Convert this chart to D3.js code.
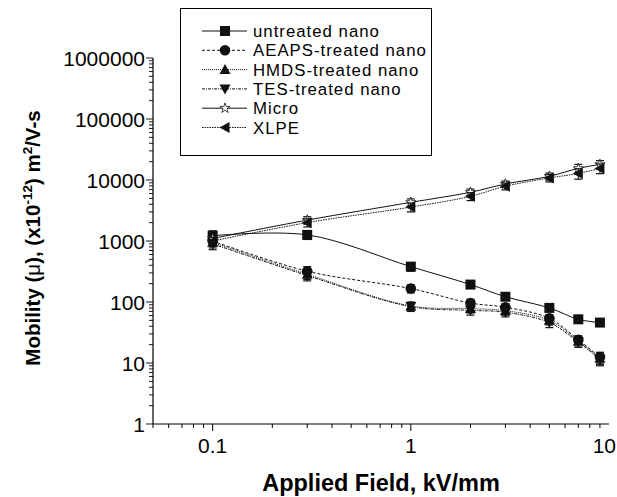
<!DOCTYPE html>
<html><head><meta charset="utf-8">
<script src="https://cdn.jsdelivr.net/npm/d3@7/dist/d3.min.js"></script>
<style>body{margin:0;background:#fff}svg{display:block}text{font-family:"Liberation Sans",Arial,Helvetica,sans-serif}</style>
</head><body>
<svg id="c" width="617" height="497"></svg>
<script>
const fields = [0.1, 0.3, 1, 2, 3, 5, 7, 9];
const untreated = [1220, 1260, 380, 193, 122, 80, 52, 46];
const aeaps     = [1000, 320, 166, 96, 82, 54, 24, 12.5];
const hmds      = [950, 285, 86, 78, 72, 50, 23, 12];
const tes       = [900, 272, 84, 73, 68, 46, 22, 11.5];
const micro     = [1100, 2200, 4300, 6300, 8600, 11500, 15500, 18000];
const xlpe      = [1000, 2000, 3600, 5400, 7900, 10800, 12800, 15500];
const errUntreated = [250, 200, 60, 20, 12, 8, 5, 4];
const errAeaps     = [180, 60, 25, 15, 12, 8, 4, 2.5];
const errHmds      = [180, 50, 14, 12, 11, 8, 4, 2.5];
const errTes       = [180, 50, 14, 12, 11, 8, 4, 2.5];
const errMicro     = [150, 300, 600, 800, 1000, 1500, 2500, 2800];
const errXlpe      = [150, 300, 600, 800, 1000, 1500, 2500, 2800];
const seriesNames = ["untreated nano", "AEAPS-treated nano", "HMDS-treated nano", "TES-treated nano", "Micro", "XLPE"];
const yTicks = [1, 10, 100, 1000, 10000, 100000, 1000000];
const xTicks = [0.1, 1, 10];

const series = [
  {name: seriesNames[0], v: untreated, e: errUntreated, dash: null, sym: "square"},
  {name: seriesNames[1], v: aeaps, e: errAeaps, dash: "3,2", sym: "circle"},
  {name: seriesNames[2], v: hmds, e: errHmds, dash: "1,1", sym: "up"},
  {name: seriesNames[3], v: tes, e: errTes, dash: "3,1,1,1", sym: "down"},
  {name: seriesNames[4], v: micro, e: errMicro, dash: null, sym: "star"},
  {name: seriesNames[5], v: xlpe, e: errXlpe, dash: "1.5,1", sym: "left"}
];

const svg = d3.select("#c");
const x = d3.scaleLog().domain([0.05, 10]).range([153, 609]);
const y = d3.scaleLog().domain([1, 1000000]).range([424, 58]);

// axes
const gx = svg.append("g").attr("transform", "translate(0,424)");
gx.append("line").attr("x1", 153).attr("x2", 609).attr("stroke", "#000").attr("stroke-width", 1.2);
const xMinor = [];
[0.01, 0.1, 1].forEach(d => { for (let k = 1; k <= 9; k++) { const v = d * k; if (v >= 0.05 && v <= 10) xMinor.push(v); } });
gx.selectAll("line.mt").data(xMinor).enter().append("line")
  .attr("x1", d => x(d)).attr("x2", d => x(d)).attr("y1", 0)
  .attr("y2", d => xTicks.includes(+d.toPrecision(3)) ? 7 : 4).attr("stroke", "#000").attr("stroke-width", 1);
gx.selectAll("text").data(xTicks).enter().append("text")
  .attr("x", d => d === 10 ? 616 : x(d)).attr("y", 29)
  .attr("text-anchor", d => d === 10 ? "end" : "middle").attr("font-size", 21).text(d => d);

const gy = svg.append("g");
gy.append("line").attr("x1", 153).attr("x2", 153).attr("y1", 424).attr("y2", 58).attr("stroke", "#000").attr("stroke-width", 1.2);
const yMinor = [];
yTicks.slice(0, -1).forEach(d => { for (let k = 1; k <= 9; k++) yMinor.push(d * k); });
yMinor.push(1000000);
gy.selectAll("line.mt").data(yMinor).enter().append("line")
  .attr("y1", d => y(d)).attr("y2", d => y(d)).attr("x1", 153)
  .attr("x2", d => yTicks.includes(d) ? 146 : 149).attr("stroke", "#000").attr("stroke-width", 0.9);
gy.selectAll("text").data(yTicks).enter().append("text")
  .attr("x", 145).attr("y", d => y(d) + 7.5).attr("text-anchor", "end").attr("font-size", 21).text(d => d);

// titles
svg.append("text").attr("x", 381).attr("y", 491).attr("text-anchor", "middle")
  .attr("font-size", 23.5).attr("font-weight", "bold").text("Applied Field, kV/mm");
const yt = svg.append("text").attr("transform", "translate(40,238) rotate(-90)").attr("text-anchor", "middle")
  .attr("font-size", 20.5).attr("font-weight", "bold");
yt.append("tspan").text("Mobility (");
yt.append("tspan").attr("font-weight", "normal").text("μ");
yt.append("tspan").text("), (x10");
yt.append("tspan").attr("font-size", 13.5).attr("dy", -8).text("-12");
yt.append("tspan").attr("dy", 8).text(") m");
yt.append("tspan").attr("font-size", 13.5).attr("dy", -8).text("2");
yt.append("tspan").attr("dy", 8).text("/V-s");

// symbols
function drawSym(g, sym, cx, cy) {
  if (sym === "square") g.append("rect").attr("x", cx - 5).attr("y", cy - 5).attr("width", 10).attr("height", 10).attr("fill", "#111");
  else if (sym === "circle") g.append("circle").attr("cx", cx).attr("cy", cy).attr("r", 5.3).attr("fill", "#111");
  else if (sym === "up") g.append("path").attr("d", `M${cx},${cy - 5.5}L${cx + 5.5},${cy + 4.5}L${cx - 5.5},${cy + 4.5}Z`).attr("fill", "#111");
  else if (sym === "down") g.append("path").attr("d", `M${cx},${cy + 5.5}L${cx + 5.5},${cy - 4.5}L${cx - 5.5},${cy - 4.5}Z`).attr("fill", "#111");
  else if (sym === "left") g.append("path").attr("d", `M${cx - 5.5},${cy}L${cx + 4.5},${cy - 5.5}L${cx + 4.5},${cy + 5.5}Z`).attr("fill", "#111");
  else if (sym === "star") g.append("path").attr("d", d3.symbol().type(d3.symbolStar).size(32)()).attr("transform", `translate(${cx},${cy})`)
    .attr("fill", "#fff").attr("stroke", "#111").attr("stroke-width", 0.8);
}

const line = d3.line().curve(d3.curveCatmullRom.alpha(0.5));
const plot = svg.append("g");
series.forEach(s => {
  const pts = fields.map((f, i) => [x(f), y(s.v[i])]);
  plot.append("path").attr("d", line(pts)).attr("fill", "none").attr("stroke", "#111")
    .attr("stroke-width", 1).attr("stroke-dasharray", s.dash);
});
series.forEach(s => {
  const g = plot.append("g");
  fields.forEach((f, i) => {
    const cx = x(f), y1 = y(s.v[i] + s.e[i]), y2 = y(Math.max(s.v[i] - s.e[i], 0.5));
    g.append("line").attr("x1", cx).attr("x2", cx).attr("y1", y1).attr("y2", y2).attr("stroke", "#111").attr("stroke-width", 1);
    [y1, y2].forEach(yy => g.append("line").attr("x1", cx - 4).attr("x2", cx + 4).attr("y1", yy).attr("y2", yy).attr("stroke", "#111").attr("stroke-width", 1.2));
  });
  fields.forEach((f, i) => drawSym(g, s.sym, x(f), y(s.v[i])));
});

// legend
const lg = svg.append("g");
lg.append("rect").attr("x", 180.5).attr("y", 8.5).attr("width", 251).attr("height", 147).attr("fill", "#fff").attr("stroke", "#000").attr("stroke-width", 1);
series.forEach((s, i) => {
  const cy = 31 + i * 19.3;
  lg.append("line").attr("x1", 202).attr("x2", 247).attr("y1", cy).attr("y2", cy).attr("stroke", "#111").attr("stroke-width", 1).attr("stroke-dasharray", s.dash);
  drawSym(lg, s.sym, 225, cy);
  lg.append("text").attr("x", 253).attr("y", cy + 6).attr("font-size", 16.8).attr("letter-spacing", 1).text(s.name);
});
</script>
</body></html>
